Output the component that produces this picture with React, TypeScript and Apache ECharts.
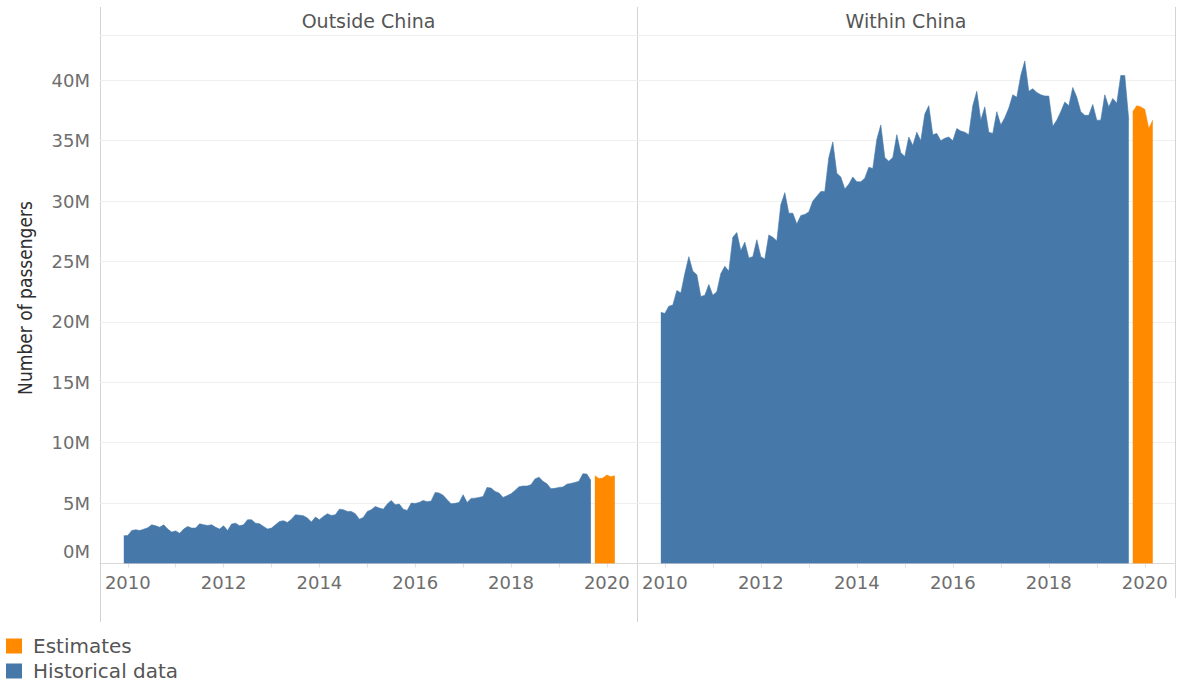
import React, { useEffect, useRef } from "react";
import * as echarts from "echarts";

// ---- Data -------------------------------------------------------------
const START_YEAR = 2009;
const START_MONTH = 12; // first month of data: Dec 2009

const panels = ["Outside China", "Within China"];
const seriesNames = ["Historical data", "Estimates"];

// Millions of passengers, monthly, Dec 2009 .. Sep 2019
const outsideHistorical = [
  2.29, 2.32, 2.73, 2.79, 2.73, 2.84, 2.95, 3.2, 3.12, 3.0, 3.2, 2.85,
  2.6, 2.7, 2.5, 2.85, 3.07, 2.93, 2.93, 3.29, 3.2, 3.15, 3.2, 3.0,
  2.85, 3.12, 2.73, 3.26, 3.34, 3.12, 3.2, 3.62, 3.62, 3.34, 3.29, 3.07,
  2.85, 2.93, 3.2, 3.48, 3.54, 3.4, 3.67, 4.03, 4.0, 3.95, 3.76, 3.43,
  3.84, 3.62, 3.9, 4.12, 3.98, 4.03, 4.5, 4.45, 4.31, 4.31, 4.12, 3.67,
  3.81, 4.31, 4.45, 4.72, 4.59, 4.5, 4.92, 5.22, 4.86, 4.92, 4.5, 4.39,
  5.0, 4.97, 5.06, 5.22, 5.11, 5.17, 5.88, 5.83, 5.64, 5.28, 4.94, 4.98,
  5.06, 5.69, 5.06, 5.39, 5.41, 5.47, 5.55, 6.3, 6.24, 5.97, 5.83, 5.47,
  5.61, 5.77, 6.05, 6.35, 6.41, 6.41, 6.52, 6.99, 7.15, 6.8, 6.6, 6.19,
  6.22, 6.3, 6.33, 6.57, 6.63, 6.71, 6.8, 7.43, 7.4, 6.88,
];
// Oct 2019 .. Mar 2020
const outsideEstimates = [7.27, 7.04, 7.07, 7.32, 7.18, 7.27];

const withinHistorical = [
  20.8, 20.7, 21.3, 21.4, 22.6, 22.4, 24.0, 25.4, 24.2, 23.9, 22.1, 22.2,
  23.1, 22.2, 22.5, 24.0, 24.6, 24.2, 27.0, 27.4, 25.9, 26.6, 25.3, 25.4,
  26.8, 25.4, 25.2, 27.2, 27.0, 26.7, 29.7, 30.7, 29.0, 29.0, 28.1, 28.8,
  28.9, 29.1, 30.0, 30.4, 30.8, 30.8, 33.6, 34.9, 32.3, 32.0, 31.0, 31.4,
  32.0, 31.6, 31.6, 31.9, 32.8, 32.7, 35.1, 36.3, 33.6, 33.3, 33.6, 35.5,
  34.0, 33.7, 35.3, 34.6, 35.7, 35.0, 37.2, 37.9, 35.5, 35.6, 35.0, 35.2,
  35.3, 35.0, 36.0, 35.8, 35.7, 35.5, 37.9, 39.1, 36.7, 37.8, 35.7, 35.6,
  37.4, 36.3, 36.9, 37.7, 38.8, 38.6, 40.4, 41.6, 39.1, 39.3, 39.0, 38.8,
  38.7, 38.7, 36.2, 36.7, 37.4, 38.2, 37.9, 39.4, 38.6, 37.4, 37.1, 37.1,
  38.0, 36.7, 36.7, 38.8, 37.8, 38.5, 38.1, 40.4, 40.4, 36.7,
];
const withinEstimates = [37.4, 37.9, 37.8, 37.6, 36.0, 36.7];

const yearLabels = [2010, 2012, 2014, 2016, 2018, 2020];
const yearTicks = [2010, 2011, 2012, 2013, 2014, 2015, 2016, 2017, 2018, 2019, 2020];
const yTickLabels = [0, 5, 10, 15, 20, 25, 30, 35, 40];

// month labels "YYYY-MM" for the whole span
const totalMonths = outsideHistorical.length + outsideEstimates.length;
const months: string[] = Array.from({ length: totalMonths }, (_, i) => {
  const m = START_MONTH - 1 + i;
  const y = START_YEAR + Math.floor(m / 12);
  return `${y}-${String((m % 12) + 1).padStart(2, "0")}`;
});
const monthToYear = (s: string) => {
  const [y, m] = s.split("-").map(Number);
  return y + (m - 1) / 12;
};

// ---- Styles -----------------------------------------------------------
const BLUE = "#4679aa";
const ORANGE = "#ff8a00";
const FONT = "'DejaVu Sans', sans-serif";
const LABEL_COLOR = "#6e6e6e";
const BORDER = "#d3d3d3";

export default function App() {
  const ref = useRef<HTMLDivElement>(null);

  useEffect(() => {
    document.body.style.margin = "0";
    if (!ref.current) return;
    const chart = echarts.init(ref.current, undefined, { renderer: "svg" });

    const nHist = outsideHistorical.length;
    const pairs = (vals: number[], offset: number) =>
      vals.map((v, i) => [monthToYear(months[offset + i]), v]);

    const gridTop = 35;
    const gridBottomY = 563.5;
    const grids = [
      { left: 100, top: gridTop, width: 537, height: gridBottomY - gridTop },
      { left: 637, top: gridTop, width: 538, height: gridBottomY - gridTop },
    ];

    const xAxis = [0, 1].map((i) => ({
      type: "value",
      gridIndex: i,
      min: 2009.42,
      max: 2020.63,
      splitLine: { show: false },
      axisLine: { show: true, lineStyle: { color: "#d6d6d6", type: "dotted", width: 1 } },
      axisTick: {
        show: true,
        customValues: yearTicks,
        length: 4,
        lineStyle: { color: "#e0e0e0" },
      },
      axisLabel: {
        customValues: yearLabels,
        formatter: (v: number) => String(Math.round(v)),
        color: LABEL_COLOR,
        fontFamily: FONT,
        fontSize: 18,
        margin: 10,
        hideOverlap: false,
      },
    }));

    const yAxis = [0, 1].map((i) => ({
      type: "value",
      gridIndex: i,
      min: 0,
      max: 43.75,
      interval: 5,
      axisLine: { show: false },
      axisTick: { show: false },
      splitLine: { show: true, lineStyle: { color: "#efefef", width: 1 } },
      axisLabel: {
        show: i === 0,
        showMaxLabel: false,
        margin: 10,
        color: LABEL_COLOR,
        fontFamily: FONT,
        fontSize: 18,
        formatter: (v: number) =>
          yTickLabels.includes(v) ? (v === 0 ? "{z|0M}" : `${v}M`) : "",
        rich: {
          z: {
            color: LABEL_COLOR,
            fontFamily: FONT,
            fontSize: 18,
            padding: [0, 0, 24, 0],
          },
        },
      },
    }));

    const mk = (
      name: string,
      vals: number[],
      offset: number,
      color: string,
      axis: number
    ) => ({
      type: "line",
      name,
      xAxisIndex: axis,
      yAxisIndex: axis,
      data: pairs(vals, offset),
      symbol: "none",
      lineStyle: { color, width: 0.6 },
      itemStyle: { color },
      areaStyle: { color, opacity: 1 },
      silent: true,
    });

    const legendBase = {
      orient: "vertical",
      left: 6,
      padding: 0,
      icon: "rect",
      itemWidth: 16,
      itemHeight: 15,
      selectedMode: false,
      textStyle: {
        color: "#555",
        fontFamily: FONT,
        fontSize: 20,
        padding: [0, 0, 0, 6],
      },
    };

    const option = {
      animation: false,
      grid: grids,
      xAxis,
      yAxis,
      legend: [
        { ...legendBase, top: 636, data: [seriesNames[1]] },
        { ...legendBase, top: 661, data: [seriesNames[0]] },
      ],
      series: [
        mk(seriesNames[0], outsideHistorical, 0, BLUE, 0),
        mk(seriesNames[1], outsideEstimates, nHist, ORANGE, 0),
        mk(seriesNames[0], withinHistorical, 0, BLUE, 1),
        mk(seriesNames[1], withinEstimates, nHist, ORANGE, 1),
      ],
      graphic: [
        { type: "line", shape: { x1: 100.5, y1: 7, x2: 100.5, y2: 622 }, style: { stroke: BORDER, lineWidth: 1 } },
        { type: "line", shape: { x1: 637.5, y1: 7, x2: 637.5, y2: 622 }, style: { stroke: BORDER, lineWidth: 1 } },
        { type: "line", shape: { x1: 1175.5, y1: 7, x2: 1175.5, y2: 598 }, style: { stroke: BORDER, lineWidth: 1 } },
        { type: "line", shape: { x1: 100, y1: 35.5, x2: 1176, y2: 35.5 }, style: { stroke: BORDER, lineWidth: 1 } },
        {
          type: "text",
          x: 368.5,
          y: 21,
          style: { text: panels[0], fill: "#555", font: `19px ${FONT}`, textAlign: "center", textVerticalAlign: "middle" },
        },
        {
          type: "text",
          x: 906,
          y: 21,
          style: { text: panels[1], fill: "#555", font: `19px ${FONT}`, textAlign: "center", textVerticalAlign: "middle" },
        },
        {
          type: "text",
          x: 25,
          y: 298,
          rotation: Math.PI / 2,
          style: {
            text: "Number of passengers",
            fill: "#2e2e2e",
            font: `19px 'DejaVu Sans Condensed', 'Liberation Sans Narrow', sans-serif`,
            textAlign: "center",
            textVerticalAlign: "middle",
          },
        },
      ],
    };

    chart.setOption(option as any);
    return () => chart.dispose();
  }, []);

  return <div ref={ref} style={{ width: 1180, height: 683 }} />;
}
